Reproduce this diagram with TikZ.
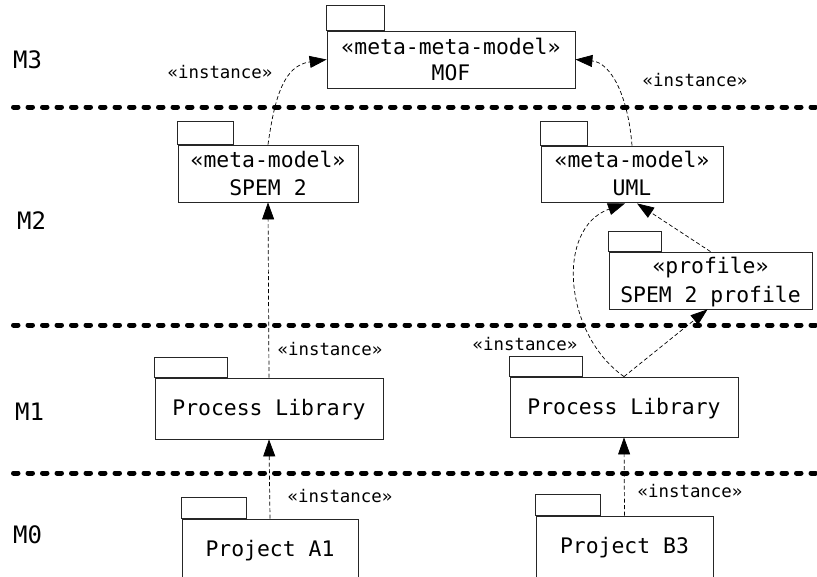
\documentclass[tikz,border=0pt]{standalone}
\usepackage{fontspec}
\newfontfamily\pkgfont{DejaVu Sans Mono}
\usetikzlibrary{arrows.meta,calc}
\begin{document}
\begin{tikzpicture}[x=1pt,y=-1pt,
  body/.style={draw=black!85, line width=0.8pt, inner sep=0pt, fill=white},
  txt/.style={font=\pkgfont\fontsize{21.4}{25}\selectfont, inner sep=0pt, anchor=base},
  lbl/.style={font=\pkgfont\fontsize{17.4}{20}\selectfont, inner sep=0pt, anchor=base},
  lvl/.style={font=\pkgfont\fontsize{24}{28}\selectfont, inner sep=0pt, anchor=base west},
  sepline/.style={line width=5pt, line cap=round, dash pattern=on 4.5pt off 10pt},
  dep/.style={draw=black, line width=0.7pt, dash pattern=on 4pt off 2.5pt, -{Triangle[length=17pt,width=12pt]}},
  tabstyle/.style={draw=black!85, line width=0.8pt}]
\useasboundingbox (0,0) rectangle (817,576);

% level separators
\draw[sepline] (13.5,107) -- (820,107);
\draw[sepline] (13.5,325) -- (820,325);
\draw[sepline] (13.5,473) -- (820,473);

% level labels
\node[lvl] (m3) at (13,68) {M3};
\node[lvl] (m2) at (17,229) {M2};
\node[lvl] (m1) at (15,420) {M1};
\node[lvl] (m0) at (13,543) {M0};

% packages (bodies)
\node[body, minimum width=248pt, minimum height=57pt] (mof) at (451,59.5) {};
\node[body, minimum width=180pt, minimum height=57pt] (spem) at (268,173.5) {};
\node[body, minimum width=182pt, minimum height=56pt] (uml) at (632,174) {};
\node[body, minimum width=203pt, minimum height=57pt] (prof) at (710.5,280.5) {};
\node[body, minimum width=228pt, minimum height=61pt] (pll) at (269,408.5) {};
\node[body, minimum width=228pt, minimum height=60pt] (plr) at (624,407) {};
\node[body, minimum width=176pt, minimum height=61pt] (pa1) at (270,549.5) {};
\node[body, minimum width=177pt, minimum height=61pt] (pb3) at (624.5,546.5) {};

% tabs
\draw[tabstyle] (mof.north west) rectangle ++(58,-25);
\draw[tabstyle] (spem.north west) rectangle ++(56,-23);
\draw[tabstyle] (uml.north west) rectangle ++(47,-24);
\draw[tabstyle] (prof.north west) rectangle ++(53,-20);
\draw[tabstyle] (pll.north west) rectangle ++(73,-20);
\draw[tabstyle] (plr.north west) rectangle ++(73,-20);
\draw[tabstyle] (pa1.north west) rectangle ++(65,-21);
\draw[tabstyle] (pb3.north west) rectangle ++(65,-21);

% package texts
\node[txt] (mofa) at ($(mof.center)+(0,-5)$) {«meta-meta-model»};
\node[txt] (mofb) at ($(mof.center)+(0,20.5)$) {MOF};
\node[txt] (spema) at ($(spem.center)+(0,-6.5)$) {«meta-model»};
\node[txt] (spemb) at ($(spem.center)+(0,21.5)$) {SPEM 2};
\node[txt] (umla) at ($(uml.center)+(0,-7)$) {«meta-model»};
\node[txt] (umlb) at ($(uml.center)+(0,21)$) {UML};
\node[txt] (profa) at ($(prof.center)+(0,-7.5)$) {«profile»};
\node[txt] (profb) at ($(prof.center)+(0,21.5)$) {SPEM 2 profile};
\node[txt] (pllt) at ($(pll.center)+(0,7)$) {Process Library};
\node[txt] (plrt) at ($(plr.center)+(0,7)$) {Process Library};
\node[txt] (pa1t) at ($(pa1.center)+(0,7)$) {Project A1};
\node[txt] (pb3t) at ($(pb3.center)+(0,7)$) {Project B3};

% instance labels
\node[lbl] (i1) at (220,78) {«instance»};
\node[lbl] (i2) at (695,86) {«instance»};
\node[lbl] (i3) at (330,355) {«instance»};
\node[lbl] (i4) at (525,350) {«instance»};
\node[lbl] (i5) at (340,502) {«instance»};
\node[lbl] (i6) at (690,497) {«instance»};

% dependencies
\draw[dep] (pa1.north) -- (pll.south);
\draw[dep] (pb3.north) -- (plr.south);
\draw[dep] (pll.north) -- (spem.south);
\draw[dep] (spem.north) .. controls +(7,-50) and +(-42,6) .. (mof.west);
\draw[dep] (uml.north) .. controls +(-4,-51) and +(35,3) .. (mof.east);
\draw[dep] (plr.north) .. controls +(-60,-42) and +(-70,25) .. ($(uml.south)+(-7,1)$);
\draw[dep] (plr.north) -- ($(prof.south)+(-3,0)$);
\draw[dep] (prof.north) -- ($(uml.south)+(5,1)$);
\end{tikzpicture}
\end{document}
